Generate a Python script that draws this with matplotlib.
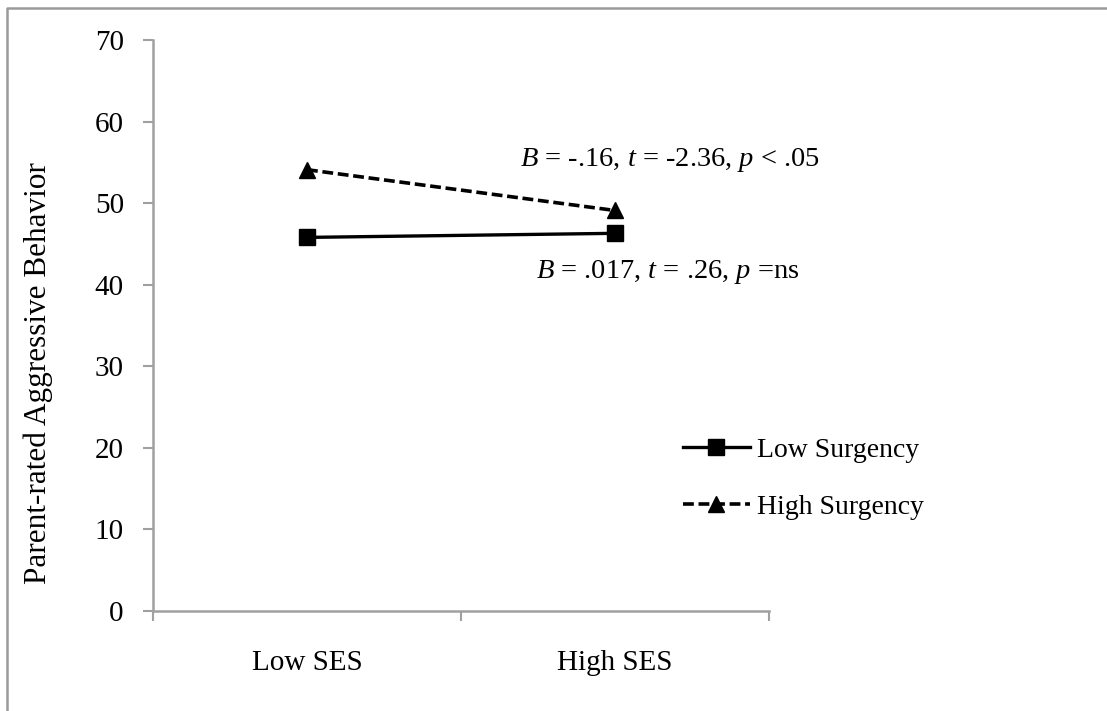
import matplotlib
matplotlib.use("Agg")
import matplotlib.pyplot as plt
from matplotlib.lines import Line2D

plt.rcParams["font.family"] = ["Liberation Serif", "DejaVu Serif"]
plt.rcParams["mathtext.fontset"] = "custom"
plt.rcParams["mathtext.rm"] = "Liberation Serif"
plt.rcParams["mathtext.it"] = "Liberation Serif:italic"

# Simple slopes of aggression on SES at two levels of surgency
categories = ["Low SES", "High SES"]
low_surgency = [45.8, 46.3]
high_surgency = [54.1, 49.1]
series_labels = ["Low Surgency", "High Surgency"]
y_ticks = [0, 10, 20, 30, 40, 50, 60, 70]
y_label = "Parent-rated Aggressive Behavior"
high_note = "$B$ = -.16, $t$ = -2.36, $p$ < .05"
low_note = "$B$ = .017, $t$ = .26, $p$ =ns"

W, H = 1107, 711
fig = plt.figure(figsize=(W / 100, H / 100), dpi=100)
ax = fig.add_axes([153 / W, 1 - 611 / H, (769 - 153) / W, (611 - 40) / H])

x = [i + 0.5 for i in range(len(categories))]
ax.plot(x, low_surgency, color="black", lw=2.4, marker="s", ms=11,
        label=series_labels[0])
ax.plot(x, high_surgency, color="black", lw=2.6, ls=(0, (3.0, 1.3)),
        marker="^", ms=11, label=series_labels[1])

ax.set_xlim(0, len(categories))
ax.set_ylim(y_ticks[0], y_ticks[-1])
ax.set_yticks(y_ticks)
ax.set_xticks(range(len(categories) + 1))
ax.set_xticklabels([])
ax.set_xticks(x, minor=True)
ax.set_xticklabels(categories, minor=True, fontsize=21)
ax.tick_params(axis="x", which="minor", length=0, pad=28)
ax.tick_params(axis="x", which="major", length=7, width=1.5, color="#a0a0a0",
               direction="out")
ax.tick_params(axis="y", length=7, width=1.5, color="#a0a0a0", pad=14,
               labelsize=21)

for side in ("top", "right"):
    ax.spines[side].set_visible(False)
for side in ("left", "bottom"):
    ax.spines[side].set_color("#a0a0a0")
    ax.spines[side].set_linewidth(1.8)

ax.set_ylabel(y_label, fontsize=22.5, va="center")
ax.yaxis.set_label_coords(-0.187, 0.417)

ax.text(1.679, 55.3, high_note, fontsize=20.5, ha="center", va="center")
ax.text(1.673, 41.6, low_note, fontsize=20.5, ha="center", va="center")

fig.legend(loc="center left", bbox_to_anchor=(683 / W, 1 - 478.5 / H),
           frameon=False, fontsize=20, handlelength=2.4, handletextpad=0.25,
           labelspacing=1.15, borderpad=0, borderaxespad=0)

# outer frame along the top and left edges
fig.add_artist(Line2D([7 / W, 7 / W, 1], [0, 1 - 8 / H, 1 - 8 / H],
                      transform=fig.transFigure, color="#9a9a9a", lw=1.8))

fig.savefig("out.png", dpi=100)
